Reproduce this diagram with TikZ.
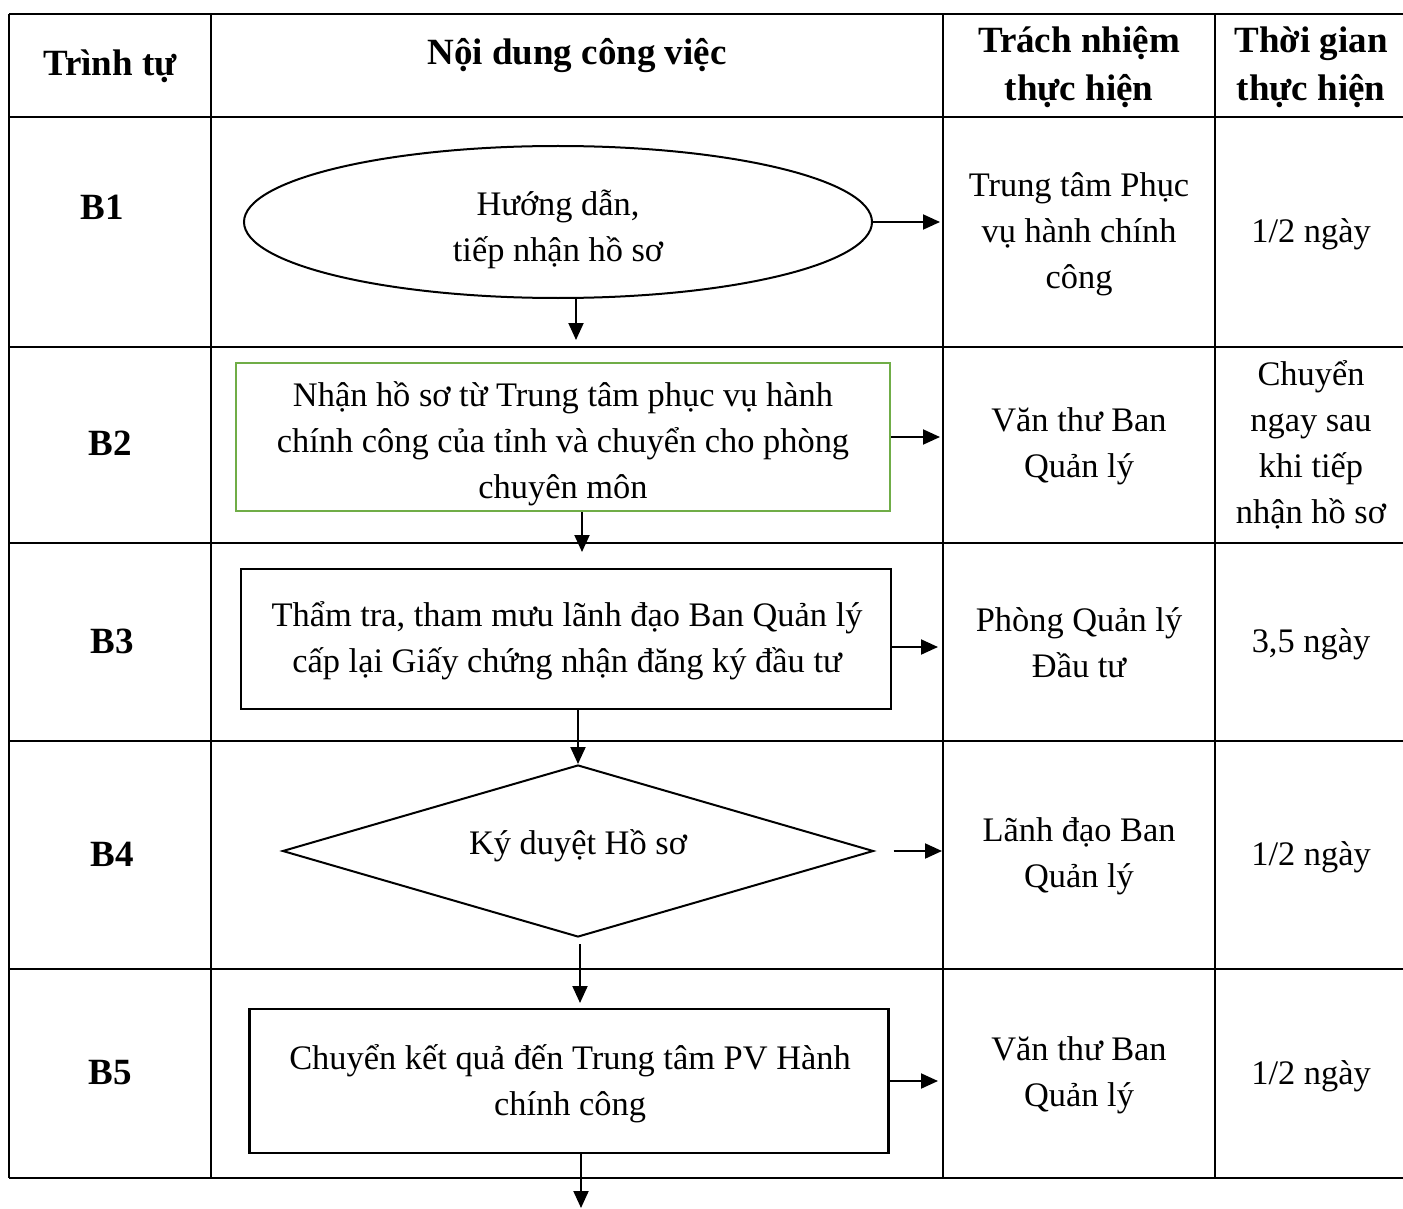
\documentclass[tikz,border=0pt]{standalone}
\usepackage{fontspec}
\setmainfont{Liberation Serif}
\usetikzlibrary{arrows.meta, shapes.geometric}
\definecolor{boxgreen}{HTML}{70AD47}

\begin{document}
\begin{tikzpicture}[
    x=1pt, y=-1pt,
    grid/.style={line width=2pt},
    head/.style={font=\fontsize{37}{48}\selectfont\bfseries, align=center, inner sep=0pt},
    stepno/.style={font=\fontsize{37}{48}\selectfont\bfseries, inner sep=0pt},
    cell/.style={font=\fontsize{34.4}{46}\selectfont, align=center, inner sep=0pt},
    proc/.style={draw, line width=2.4pt, inner sep=0pt},
    flow/.style={-{Triangle[length=17pt, width=15pt]}, line width=2pt}
  ]
    \useasboundingbox (0,0) rectangle (1403,1209);

    \foreach \y in {14, 117, 347, 543, 741, 969, 1178}
      \draw[grid] (9,\y) -- (1403,\y);
    \foreach \x in {9, 211, 943, 1215}
      \draw[grid] (\x,14) -- (\x,1178);

    \node[head] (hseq) at (110,66) {Trình tự};
    \node[head] (hcontent) at (577,56) {Nội dung công việc};
    \node[head] (hresp) at (1079,67) {Trách nhiệm\\thực hiện};
    \node[head] (htime) at (1311,67) {Thời gian\\thực hiện};

    \node[stepno] (b1) at (102,207) {B1};
    \node[stepno] (b2) at (110,443) {B2};
    \node[stepno] (b3) at (112,641) {B3};
    \node[stepno] (b4) at (112,854) {B4};
    \node[stepno] (b5) at (110,1073) {B5};

    \node[proc, ellipse, line width=2pt, minimum width=628pt, minimum height=152pt]
      (s1) at (558,222) {};
    \node[proc, draw=boxgreen, line width=2.8pt, minimum width=654pt, minimum height=148pt]
      (s2) at (563,437) {};
    \node[proc, minimum width=650pt, minimum height=140pt]
      (s3) at (566,639) {};
    \node[proc, diamond, aspect=3.44, line width=2pt, minimum width=591pt, minimum height=172pt]
      (s4) at (578,851) {};
    \node[proc, minimum width=639pt, minimum height=144pt]
      (s5) at (569,1081) {};

    \node[cell] (s1txt) at (558,229) {Hướng dẫn,\\tiếp nhận hồ sơ};
    \node[cell] (s2txt) at (563,444) {Nhận hồ sơ từ Trung tâm phục vụ hành\\chính công của tỉnh và chuyển cho phòng\\chuyên môn};
    \node[cell] (s3txt) at (567,641) {Thẩm tra, tham mưu lãnh đạo Ban Quản lý\\cấp lại Giấy chứng nhận đăng ký đầu tư};
    \node[cell] (s4txt) at (578,846) {Ký duyệt Hồ sơ};
    \node[cell] (s5txt) at (570,1084) {Chuyển kết quả đến Trung tâm PV Hành\\chính công};

    \node[cell] (r1) at (1079,234) {Trung tâm Phục\\vụ hành chính\\công};
    \node[cell] (r2) at (1079,446) {Văn thư Ban\\Quản lý};
    \node[cell] (r3) at (1079,643) {Phòng Quản lý\\Đầu tư};
    \node[cell] (r4) at (1079,856) {Lãnh đạo Ban\\Quản lý};
    \node[cell] (r5) at (1079,1075) {Văn thư Ban\\Quản lý};

    \node[cell] (t1) at (1311,234) {1/2 ngày};
    \node[cell] (t2) at (1311,445) {Chuyển\\ngay sau\\khi tiếp\\nhận hồ sơ};
    \node[cell] (t3) at (1311,644) {3,5 ngày};
    \node[cell] (t4) at (1311,857) {1/2 ngày};
    \node[cell] (t5) at (1311,1076) {1/2 ngày};

    % arrow ends
    \coordinate (e1) at (940,222);
    \coordinate (e2) at (940,437);
    \coordinate (e3) at (938,647);
    \coordinate (e4) at (942,851);
    \coordinate (e5) at (938,1081);
    \coordinate (d12) at (576,340);
    \coordinate (d23) at (582,552);
    \coordinate (d45) at (580,1003);
    \coordinate (dout) at (581,1208);

    \draw[flow] (s1.east) -- (e1);
    \draw[flow] (s2.east) -- (e2);
    \draw[flow] (s3.east |- e3) -- (e3);
    \draw[flow, shorten <=19pt] (s4.east) -- (e4);
    \draw[flow] (s5.east) -- (e5);

    \draw[flow] (s1.south -| d12) -- (d12);
    \draw[flow] (s2.south -| d23) -- (d23);
    \draw[flow] (s3.south -| s4.north) -- (s4.north);
    \draw[flow, shorten <=6pt] (s4.south -| d45) -- (d45);
    \draw[flow] (s5.south -| dout) -- (dout);
  \end{tikzpicture}
\end{document}
